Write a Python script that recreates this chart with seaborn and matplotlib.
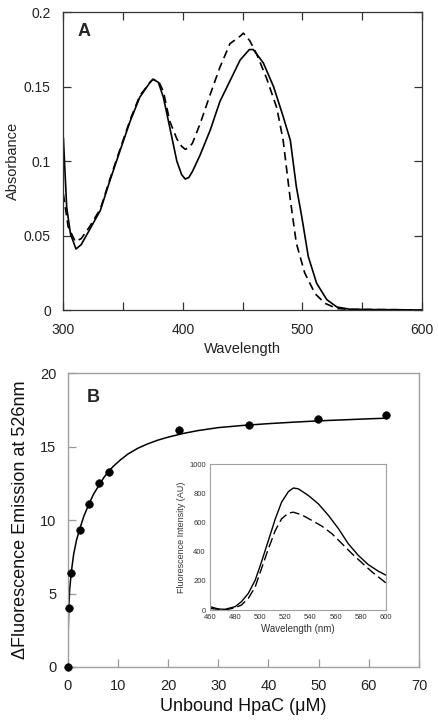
import numpy as np
import pandas as pd
import matplotlib
matplotlib.use("Agg")
import matplotlib.pyplot as plt
import seaborn as sns

# ---------------- datos panel A (absorbancia) ----------------
wl_solid = [300, 302.8, 306, 310.6, 315, 322, 331, 339, 347, 356, 364, 372.6, 375, 379.5,
            383.7, 389, 395, 399, 402, 405, 408, 414.4, 423, 431, 439.5, 448, 455.7, 459,
            467.4, 476, 484, 490, 495, 499.5, 505, 512, 520.5, 529, 540, 560, 580, 600]
abs_solid = [0.116, 0.069, 0.051, 0.041, 0.044, 0.054, 0.067, 0.087, 0.106, 0.127, 0.143,
             0.153, 0.155, 0.153, 0.143, 0.123, 0.100, 0.091, 0.088, 0.089, 0.093, 0.104,
             0.121, 0.140, 0.154, 0.168, 0.175, 0.175, 0.166, 0.150, 0.130, 0.114, 0.083,
             0.063, 0.036, 0.018, 0.007, 0.002, 0.0005, 0.0003, 0.0002, 0.0]

wl_dash = [300, 304, 310, 315, 322, 331, 339, 347, 356, 364, 372.6, 375, 379.5, 383.7, 389,
           395, 399, 402, 405, 408, 414.4, 423, 431, 439.5, 448, 450.7, 456, 461.8, 470,
           478.6, 484, 490, 495, 502, 510.7, 519, 529, 540, 560, 580, 600]
abs_dash = [0.078, 0.056, 0.046, 0.048, 0.056, 0.068, 0.088, 0.107, 0.128, 0.144, 0.153,
            0.155, 0.154, 0.147, 0.127, 0.115, 0.110, 0.108, 0.109, 0.112, 0.125, 0.145,
            0.163, 0.179, 0.184, 0.186, 0.181, 0.172, 0.156, 0.136, 0.114, 0.074, 0.045,
            0.025, 0.011, 0.0045, 0.001, 0.0004, 0.0003, 0.0002, 0.0]

# ---------------- datos panel B (titulacion) ----------------
hpac = [0, 0.2, 0.73, 2.45, 4.3, 6.3, 8.2, 22.1, 36.1, 49.9, 63.4]
dfluo = [0, 4.05, 6.43, 9.3, 11.09, 12.5, 13.3, 16.17, 16.46, 16.89, 17.14]

# curva de ajuste
fit_x = [0, 0.1, 0.2, 0.4, 0.73, 1.2, 1.8, 2.45, 3.2, 4.3, 5.2, 6.3, 7.2, 8.2, 9.2, 10.5,
         12, 14, 16, 18, 20, 23, 26, 30, 35, 40, 45, 50, 55, 60, 63.4]
fit_y = [0, 2.3, 3.9, 5.3, 6.5, 7.7, 8.7, 9.45, 10.25, 11.15, 11.8, 12.4, 12.9, 13.35,
         13.7, 14.1, 14.5, 14.9, 15.2, 15.45, 15.65, 15.9, 16.1, 16.3, 16.45, 16.57, 16.67,
         16.76, 16.83, 16.9, 16.94]

# ---------------- datos inset (emision) ----------------
em_wl_s = [460, 466.6, 472, 480, 485, 490.5, 496, 501, 506.5, 512, 517, 522.4, 526.4, 530.4,
           538.4, 546.3, 554.3, 562.3, 570, 578, 586, 594, 600]
em_s = [23, 7, 5, 23, 57, 114, 205, 330, 477, 625, 739, 811, 836, 830, 784, 727, 648, 557,
        455, 375, 311, 266, 239]
em_wl_d = [460, 472, 480, 485, 490.5, 496, 501, 506.5, 512, 517, 522.4, 526.4, 533, 541,
           549, 557, 565, 573, 581, 589, 600]
em_d = [11, 0, 16, 34, 80, 159, 284, 420, 545, 625, 664, 670, 652, 614, 575, 523, 455, 386,
        323, 261, 186]

sns.set_style("ticks")
plt.rcParams['font.family'] = ['Liberation Sans', 'DejaVu Sans']
plt.rcParams['xtick.direction'] = 'in'
plt.rcParams['ytick.direction'] = 'in'

fig = plt.figure(figsize=(4.39, 7.22), dpi=100)

# Panel A
axA = fig.add_axes([0.1443, 0.5706, 0.8164, 0.4123])
sns.lineplot(x=wl_solid, y=abs_solid, ax=axA, color="black", lw=1.2)
sns.lineplot(x=wl_dash, y=abs_dash, ax=axA, color="black", lw=1.2, linestyle=(0, (5, 3)))
axA.set_xlim(300, 600)
axA.set_ylim(0, 0.2)
axA.set_xticks([300, 400, 500, 600])
axA.set_xticks([350, 450, 550], minor=True)
axA.set_yticks([0, 0.05, 0.1, 0.15, 0.2])
axA.set_yticklabels(["0", "0.05", "0.1", "0.15", "0.2"])
axA.tick_params(which="both", direction="in", top=True, right=True, bottom=True, left=True,
                length=6, width=0.9, color="#333333")
axA.tick_params(axis="x", labelsize=10, labelcolor="#222222", pad=9)
axA.tick_params(axis="y", labelsize=10, labelcolor="#222222", pad=9)
for s in axA.spines.values():
    s.set_color("#333333")
    s.set_linewidth(0.9)
axA.set_xlabel("Wavelength", fontsize=10.5, color="#222222", labelpad=4)
axA.set_ylabel("Absorbance", fontsize=10.5, color="#222222", labelpad=3)
axA.text(0.04, 0.965, "A", transform=axA.transAxes, fontsize=13, fontweight="bold",
         va="top", ha="left")

# Panel B
axB = fig.add_axes([0.1542, 0.0762, 0.8002, 0.4068])
sns.lineplot(x=fit_x, y=fit_y, ax=axB, color="black", lw=1.1)
sns.scatterplot(x=hpac, y=dfluo, ax=axB, color="black", s=30, edgecolor="black", zorder=3,
                clip_on=False)
axB.set_xlim(0, 70)
axB.set_ylim(0, 20)
axB.set_xticks(np.arange(0, 71, 10))
axB.set_yticks([0, 5, 10, 15, 20])
axB.tick_params(which="both", direction="in", bottom=True, left=True, length=6, width=0.9,
                color="#999999")
axB.tick_params(axis="x", labelsize=10.5, labelcolor="#222222", pad=9)
axB.tick_params(axis="y", labelsize=10.5, labelcolor="#222222", pad=8)
for s in axB.spines.values():
    s.set_color("#a0a0a0")
    s.set_linewidth(1.0)
axB.set_xlabel("Unbound HpaC (\u03bcM)", fontsize=13, color="#111111", labelpad=3)
axB.set_ylabel("\u0394Fluorescence Emission at 526nm", fontsize=13, color="#111111",
               labelpad=8)
axB.text(0.054, 0.945, "B", transform=axB.transAxes, fontsize=13, fontweight="bold",
         va="top", ha="left")

# Inset
axI = fig.add_axes([0.4784, 0.1551, 0.4005, 0.2022])
sns.lineplot(x=em_wl_s, y=em_s, ax=axI, color="black", lw=1.0)
sns.lineplot(x=em_wl_d, y=em_d, ax=axI, color="black", lw=1.0, linestyle=(0, (7, 3)))
axI.set_xlim(460, 600)
axI.set_ylim(0, 1000)
axI.set_xticks(np.arange(460, 601, 20))
axI.set_yticks(np.arange(0, 1001, 200))
axI.tick_params(length=0, labelsize=5.5, labelcolor="#333333", pad=3)
for s in axI.spines.values():
    s.set_color("#a0a0a0")
    s.set_linewidth(0.8)
axI.set_xlabel("Wavelength (nm)", fontsize=7, color="#333333", labelpad=2)
axI.set_ylabel("Fluorescence Intensity (AU)", fontsize=6.5, color="#333333", labelpad=2)

fig.savefig("out.png", dpi=100)
